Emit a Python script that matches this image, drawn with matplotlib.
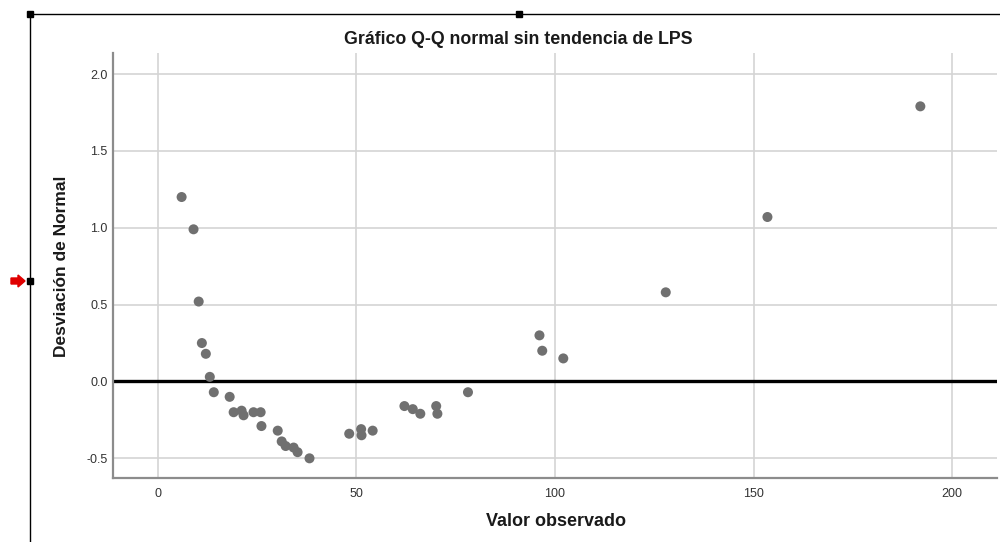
import matplotlib
matplotlib.use("Agg")
import matplotlib.pyplot as plt
from matplotlib.lines import Line2D
from matplotlib.patches import Rectangle, Polygon

plt.rcParams['font.family'] = ['Liberation Sans', 'DejaVu Sans']

# Data
valor_observado = [6.0, 9.0, 10.3, 11.1, 12.1, 13.1, 14.1, 18.1, 19.1, 21.1, 21.6,
                   24.1, 25.9, 26.1, 30.2, 31.2, 32.2, 34.2, 35.2, 38.2,
                   48.2, 51.2, 51.3, 54.1, 62.1, 64.2, 66.1, 70.1, 70.4, 78.1,
                   96.1, 96.8, 102.1, 127.9, 153.5, 192.0]
desviacion = [1.20, 0.99, 0.52, 0.25, 0.18, 0.03, -0.07, -0.10, -0.20, -0.19, -0.22,
              -0.20, -0.20, -0.29, -0.32, -0.39, -0.42, -0.43, -0.46, -0.50,
              -0.34, -0.31, -0.35, -0.32, -0.16, -0.18, -0.21, -0.16, -0.21, -0.07,
              0.30, 0.20, 0.15, 0.58, 1.07, 1.79]
x_ticks = [0, 50, 100, 150, 200]
y_ticks = [-0.5, 0.0, 0.5, 1.0, 1.5, 2.0]

W, H = 1000, 542
fig = plt.figure(figsize=(W / 100, H / 100), dpi=100)
ax = fig.add_axes([113.3 / W, 1 - 478 / H, (997 - 113.3) / W, (478 - 53) / H])

ax.set_xlim(-11.2, 211.3)
ax.set_ylim(-0.628, 2.137)
ax.set_xticks(x_ticks)
ax.set_yticks(y_ticks)
ax.set_xticklabels([str(t) for t in x_ticks])
ax.set_yticklabels([f"{t:.1f}" for t in y_ticks])
ax.grid(True, color='#d4d4d4', linewidth=1.2)
ax.set_axisbelow(True)
for s in ['top', 'right']:
    ax.spines[s].set_visible(False)
for s in ['left', 'bottom']:
    ax.spines[s].set_color('#8c8c8c')
    ax.spines[s].set_linewidth(1.6)
ax.tick_params(length=0, labelsize=9, colors='#333333')
ax.tick_params(axis='y', pad=4)
ax.tick_params(axis='x', pad=7)

ax.axhline(0, color='black', linewidth=2.4, zorder=2)
ax.scatter(valor_observado, desviacion, s=52, color='#707070', edgecolors='none', zorder=3)

def px(x, y):
    return (x / W, 1 - y / H)

fig.text(*px(518, 40), 'Gráfico Q-Q normal sin tendencia de LPS', fontsize=12.8,
         fontweight='bold', ha='center', va='center', color='#1a1a1a')
fig.text(*px(556, 522), 'Valor observado', fontsize=13, fontweight='bold',
         ha='center', va='center', color='#1a1a1a')
fig.text(*px(62, 266), 'Desviación de Normal', fontsize=12.5, fontweight='bold',
         ha='center', va='center', rotation=90, color='#1a1a1a')

# SPSS editor frame / selection handles
fig.add_artist(Line2D([30 / W, 1.0], [1 - 14 / H, 1 - 14 / H], color='black', linewidth=1.0))
fig.add_artist(Line2D([30 / W, 30 / W], [0, 1 - 14 / H], color='black', linewidth=1.0))
for (cx, cy) in [(30, 14), (519, 14), (30, 281)]:
    fig.add_artist(Rectangle(px(cx - 3, cy + 3), 6 / W, 6 / H, color='black'))
arrow = [(11, 278), (18, 278), (18, 275), (25, 281), (18, 287), (18, 284), (11, 284)]
fig.add_artist(Polygon([px(x, y) for x, y in arrow], closed=True, color='#e00000'))

fig.savefig('out.png', dpi=100)
